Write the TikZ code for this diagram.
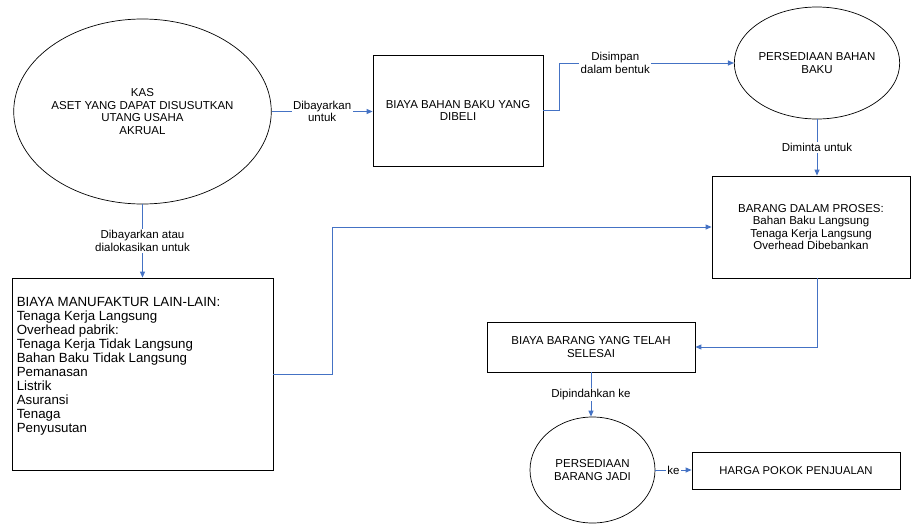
\documentclass[tikz,border=0pt]{standalone}
\usepackage{fontspec}
\setmainfont{Liberation Sans}
\usepackage{xcolor}
\usepackage{tikz}
\usetikzlibrary{arrows.meta,positioning,calc,shapes.geometric}
\definecolor{flowblue}{RGB}{68,114,196}

\begin{document}
\begin{tikzpicture}[x=1pt,y=-1pt,>={Triangle[length=6pt,width=5pt]},
  every node/.style={font=\fontsize{11.5}{12.5}\selectfont,inner sep=0pt},
  oval/.style={draw,ellipse,line width=0.7pt,align=center},
  box/.style={draw,rectangle,line width=0.8pt,align=center},
  flow/.style={->,draw=flowblue,line width=1pt},
  lbl/.style={fill=white,align=center,inner sep=1.5pt}]
\useasboundingbox (0,0) rectangle (911,525);
% sources and accounts
\node[oval,minimum width=211pt,minimum height=185pt] (kas) at (142.5,111.5)
  {KAS\\ASET YANG DAPAT DISUSUTKAN\\UTANG USAHA\\AKRUAL};
\node[box,minimum width=170pt,minimum height=111pt] (bbb) at (458,110.5)
  {BIAYA BAHAN BAKU YANG\\DIBELI};
\node[oval,minimum width=136pt,minimum height=112pt] (pbb) at (817,63)
  {PERSEDIAAN BAHAN\\BAKU};
\node[box,minimum width=198pt,minimum height=102pt] (bdp) at (811,227)
  {BARANG DALAM PROSES:\\Bahan Baku Langsung\\Tenaga Kerja Langsung\\Overhead Dibebankan};
\node[box,minimum width=208pt,minimum height=50pt] (bby) at (591,347)
  {BIAYA BARANG YANG TELAH\\SELESAI};
\node[oval,minimum width=125pt,minimum height=106pt] (pbj) at (592.5,470)
  {PERSEDIAAN\\BARANG JADI};
\node[box,minimum width=208pt,minimum height=37pt,font=\fontsize{11.3}{12}\selectfont] (hpp) at (796,470.5)
  {HARGA POKOK PENJUALAN};
\node[box,minimum width=261pt,minimum height=192pt] (bml) at (142.5,374) {};
\node[anchor=north west,align=left,font=\fontsize{13.3}{14}\selectfont] (bmltext)
  at ($(bml.north west)+(5,20)$)
  {BIAYA MANUFAKTUR LAIN-LAIN:\\Tenaga Kerja Langsung\\Overhead pabrik:\\Tenaga Kerja Tidak Langsung\\Bahan Baku Tidak Langsung\\Pemanasan\\Listrik\\Asuransi\\Tenaga\\Penyusutan};
% flows
\draw[flow] (kas.east) -- node[lbl] {Dibayarkan\\untuk} (kas.east -| bbb.west);
\draw[flow] (bbb.east) -- ++(16,0) |- node[lbl,pos=0.66] {Disimpan\\dalam bentuk} (pbb.west);
\draw[flow] (pbb.south) -- node[lbl] {Diminta untuk} (pbb.south |- bdp.north);
\draw[flow] (kas.south) -- node[lbl] {Dibayarkan atau\\dialokasikan untuk} (bml.north);
\draw[flow] (bml.east) -- ++(59,0) |- (bdp.west);
\draw[flow] (pbb.south |- bdp.south) |- (bby.east);
\draw[flow] (bby.south) -- node[lbl] {Dipindahkan ke} (bby.south |- pbj.north);
\draw[flow] (pbj.east) -- node[lbl] {ke} (pbj.east -| hpp.west);
\end{tikzpicture}
\end{document}
